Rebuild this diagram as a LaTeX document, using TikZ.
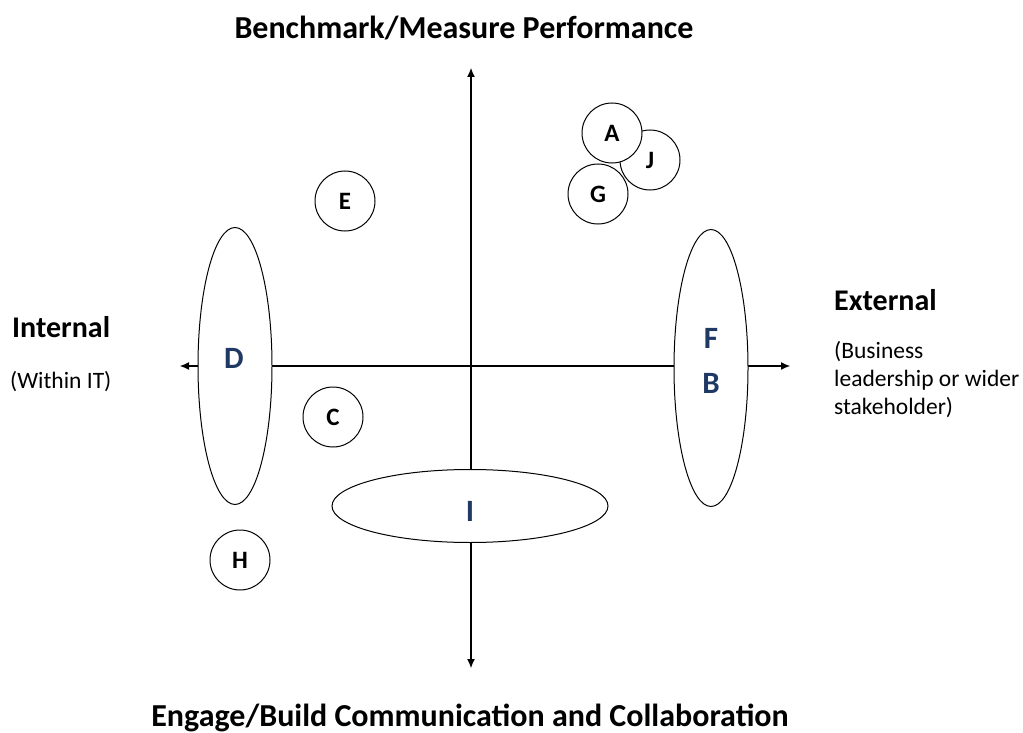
\documentclass[tikz,border=0pt]{standalone}
\usepackage{fontspec}
\setmainfont{Carlito}
\usetikzlibrary{shapes.geometric,arrows.meta}
\definecolor{letblue}{HTML}{1F3864}
\tikzset{
  axis/.style={line width=1.1pt,{Latex[length=9pt,width=8pt]}-{Latex[length=9pt,width=8pt]}},
  blob/.style={ellipse,draw,line width=1pt,fill=white,inner sep=0pt},
  circ/.style={circle,draw,line width=1pt,fill=white,minimum size=60pt,inner sep=0pt,font=\bfseries\fontsize{25}{27}\selectfont},
  biglet/.style={text=letblue,font=\bfseries\fontsize{31}{33}\selectfont,inner sep=0pt},
  heading/.style={font=\bfseries\fontsize{30}{34}\selectfont,inner sep=0pt},
  title/.style={font=\bfseries\fontsize{32}{36}\selectfont,inner sep=0pt},
  sub/.style={font=\fontsize{23.5}{28}\selectfont,inner sep=0pt,align=left}
}
\begin{document}
\begin{tikzpicture}[x=1pt,y=-1pt]
\useasboundingbox (0,0) rectangle (1023,733);
% axes
\coordinate (top) at (471,68);
\coordinate (bot) at (471,668);
\coordinate (lft) at (180,366);
\coordinate (rgt) at (790,366);
\draw[axis] (bot) -- (top);
\draw[axis] (lft) -- (rgt);
% ellipses
\node[blob,minimum width=74pt,minimum height=277pt] (dell) at (235,366) {};
\node[blob,minimum width=74pt,minimum height=277pt] (fbell) at (711,368) {};
\node[blob,minimum width=276pt,minimum height=73pt] (iell) at (470,506) {};
\node[biglet] (D) at (234,358) {D};
\node[biglet] (F) at (711,338) {F};
\node[biglet] (B) at (711,383) {B};
\node[biglet] (I) at (470,511) {I};
% circles
\node[circ] (E) at (345,201) {E};
\node[circ] (C) at (333,417) {C};
\node[circ] (H) at (240,560) {H};
\node[circ] (J) at (650,160) {J};
\node[circ] (A) at (612,133) {A};
\node[circ] (G) at (598,194) {G};
% headings
\node[title] (bench) at (464,28) {Benchmark/Measure Performance};
\node[title] (engage) at (470,718) {Engage/Build Communication and Collaboration};
\node[heading,anchor=west] (int) at (12,327) {Internal};
\node[sub,anchor=west] (intsub) at (10,382) {(Within IT)};
\node[heading,anchor=west] (ext) at (834,300) {External};
\node[sub,anchor=north west] (extsub) at (834,341) {(Business\\leadership or wider\\stakeholder)};
\end{tikzpicture}
\end{document}
